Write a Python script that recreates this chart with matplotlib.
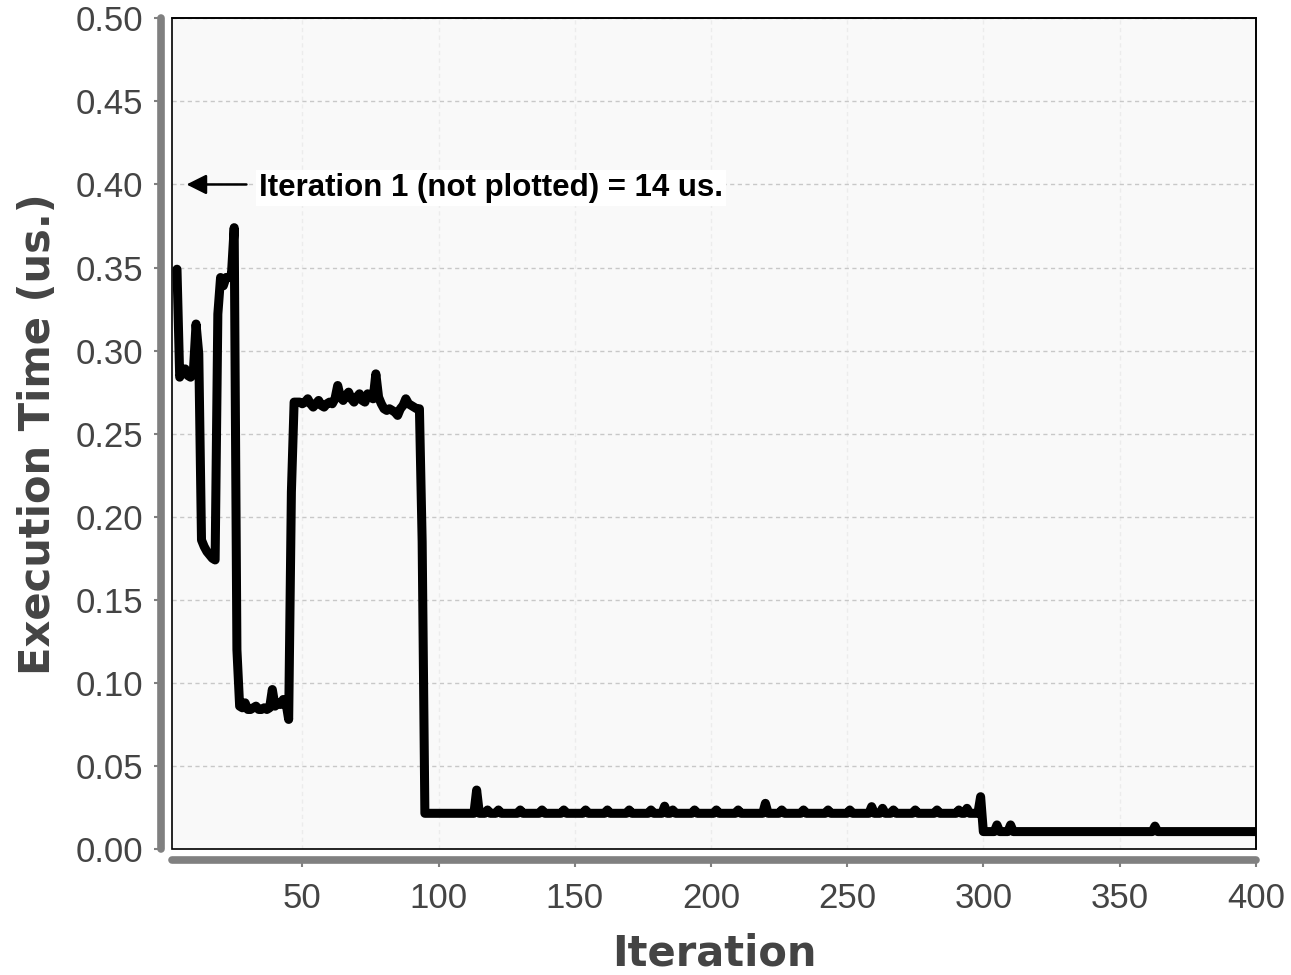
import matplotlib
matplotlib.use('Agg')
import matplotlib.pyplot as plt
from matplotlib.patches import Rectangle
import numpy as np

plt.rcParams['font.family'] = ['Liberation Sans', 'DejaVu Sans']

# Execution time per iteration
early_iters = list(range(4, 96))
early_times = [
    0.349, 0.284, 0.288, 0.289, 0.285, 0.284, 0.287, 0.316, 0.298, 0.186,  # 4-13
    0.182, 0.179, 0.177, 0.175, 0.174, 0.322, 0.344, 0.339, 0.344, 0.344,  # 14-23
    0.346, 0.374, 0.120, 0.086, 0.085, 0.088, 0.084, 0.084, 0.085, 0.086,  # 24-33
    0.084, 0.084, 0.085, 0.084, 0.085, 0.096, 0.086, 0.088, 0.087, 0.090,  # 34-43
    0.088, 0.078, 0.215, 0.269, 0.269, 0.269, 0.268, 0.269, 0.271, 0.268,  # 44-53
    0.266, 0.268, 0.270, 0.267, 0.266, 0.268, 0.269, 0.268, 0.271, 0.279,  # 54-63
    0.272, 0.270, 0.273, 0.275, 0.271, 0.269, 0.272, 0.274, 0.270, 0.269,  # 64-73
    0.274, 0.272, 0.271, 0.286, 0.272, 0.268, 0.265, 0.264, 0.265, 0.264,  # 74-83
    0.263, 0.261, 0.265, 0.267, 0.271, 0.268, 0.267, 0.266, 0.265, 0.265,  # 84-93
    0.185, 0.0215,                                                         # 94-95
]

# after iteration 95 the time sits on two flat levels with small bumps
fast_level = 0.0215      # iterations 96 - 299
fastest_level = 0.0105   # iterations 300 - 400
level_switch = 300
last_iter = 400

bump_iters = [114, 118, 122, 130, 138, 146, 154, 162, 170, 178, 183, 186,
              194, 202, 210, 220, 226, 234, 243, 251, 259, 263, 267, 275,
              283, 291, 294, 299, 305, 310, 363]
bump_times = [0.0355, 0.0235, 0.0235, 0.0235, 0.0235, 0.0235, 0.0235, 0.0235,
              0.0235, 0.0235, 0.0258, 0.0235, 0.0235, 0.0235, 0.0235, 0.0275,
              0.0235, 0.0235, 0.0235, 0.0235, 0.0255, 0.0245, 0.0235, 0.0235,
              0.0235, 0.0235, 0.0245, 0.0315, 0.0145, 0.0145, 0.0138]

x_ticks = [50, 100, 150, 200, 250, 300, 350, 400]
y_ticks = [0.00, 0.05, 0.10, 0.15, 0.20, 0.25, 0.30, 0.35, 0.40, 0.45, 0.50]

note_text = 'Iteration 1 (not plotted) = 14 us.'

# build the full series
late_iters = list(range(96, last_iter + 1))
iterations = np.array(early_iters + late_iters)
times = np.array(early_times + [fast_level if i < level_switch else fastest_level
                                for i in late_iters])
for i, v in zip(bump_iters, bump_times):
    times[iterations == i] = v

fig = plt.figure(figsize=(12.91, 9.75), dpi=100)
ax = fig.add_axes([0.1335, 0.1292, 0.8392, 0.852])
ax.set_facecolor('#f9f9f9')

ax.plot(iterations, times, color='black', lw=6.5, solid_joinstyle='round',
        solid_capstyle='round', zorder=3)

ax.set_xlim(2.3, 400)
ax.set_ylim(0, 0.5)
ax.set_xticks(x_ticks)
ax.set_yticks(y_ticks)
ax.set_yticklabels([f'{v:.2f}' for v in y_ticks])

# grid
ax.grid(axis='y', color='#c8c8c8', lw=1, linestyle=(0, (3, 2.5)), zorder=1)
ax.grid(axis='x', color='#ececec', lw=1, linestyle=(0, (3, 2.5)), zorder=1)
ax.set_axisbelow(True)

# thick detached gray axis bars
for side in ['left', 'bottom']:
    sp = ax.spines[side]
    sp.set_position(('outward', 8))
    sp.set_color('#808080')
    sp.set_linewidth(5.5)
    sp.set_capstyle('round')
for side in ['top', 'right']:
    ax.spines[side].set_color('black')
    ax.spines[side].set_linewidth(1.2)
ax.add_patch(Rectangle((0, 0), 1, 1, transform=ax.transAxes, fill=False,
                       edgecolor='black', lw=1.2, clip_on=False, zorder=4))

ax.tick_params(axis='both', direction='out', length=5, width=1.5,
               color='#808080', labelcolor='#444444', labelsize=25)
ax.tick_params(axis='y', pad=8)
ax.tick_params(axis='x', pad=11)

ax.set_xlabel('Iteration', fontsize=30, fontweight='bold', color='#444444',
              family='DejaVu Sans', labelpad=12)
ax.set_ylabel('Execution Time (us.)', fontsize=30, fontweight='bold',
              color='#444444', family='DejaVu Sans', labelpad=12)

# note about the first iteration
ax.annotate('', xy=(7.5, 0.40), xytext=(29.5, 0.40),
            arrowprops=dict(arrowstyle='-|>,head_length=0.6,head_width=0.3',
                            color='black', lw=1.8, mutation_scale=20,
                            shrinkA=0, shrinkB=0), zorder=5)
ax.text(34.2, 0.398, note_text, fontsize=22.5, fontweight='bold', color='black',
        ha='left', va='center', zorder=5,
        bbox=dict(facecolor='white', edgecolor='none', pad=2))

fig.savefig('out.png', dpi=100)
